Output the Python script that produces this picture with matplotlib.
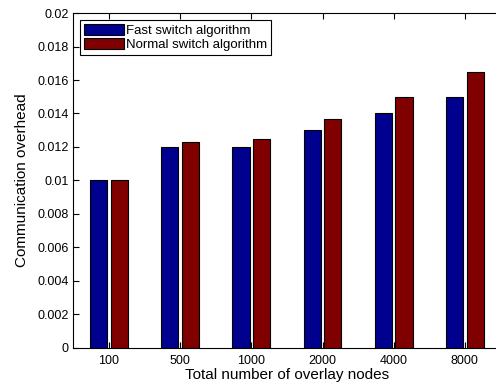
import numpy as np
import matplotlib
matplotlib.use("Agg")
from matplotlib import pyplot as plt

plt.rcParams['font.family'] = ['Liberation Sans', 'DejaVu Sans']

categories = ['100', '500', '1000', '2000', '4000', '8000']
fast = [0.010, 0.012, 0.012, 0.013, 0.014, 0.015]
normal = [0.010, 0.0123, 0.0125, 0.0137, 0.015, 0.0165]

fig = plt.figure(figsize=(4.96, 3.87), dpi=100)
ax = fig.add_axes([0.148, 0.1008, 0.861, 0.8656])

x = np.arange(1, len(categories) + 1)
off = 0.145
w = 0.24
ax.bar(x - off, fast, w, color='#00008f', edgecolor='black', linewidth=0.8,
       label='Fast switch algorithm')
ax.bar(x + off, normal, w, color='#800000', edgecolor='black', linewidth=0.8,
       label='Normal switch algorithm')

ax.set_xlim(0.5, 6.5)
ax.set_ylim(0, 0.02)
ax.set_xticks(x)
ax.set_xticklabels(categories)
ax.set_yticks(np.arange(0, 0.0201, 0.002))
ax.set_yticklabels(['0', '0.002', '0.004', '0.006', '0.008', '0.01', '0.012',
                    '0.014', '0.016', '0.018', '0.02'])
ax.spines['right'].set_visible(False)
ax.tick_params(direction='in', labelsize=9, length=4, top=True, right=False)
ax.tick_params(axis='x', pad=5)
ax.set_xlabel('Total number of overlay nodes', fontsize=11, labelpad=1)
ax.set_ylabel('Communication overhead', fontsize=11, labelpad=6)

leg = ax.legend(loc='upper left', fontsize=9.5, handlelength=3.0, handleheight=0.9,
                borderaxespad=0.5, borderpad=0.3, labelspacing=0.1,
                handletextpad=0.2, fancybox=False, framealpha=1)
leg.get_frame().set_edgecolor('black')
leg.get_frame().set_linewidth(0.8)

fig.savefig('out.png', dpi=100)
